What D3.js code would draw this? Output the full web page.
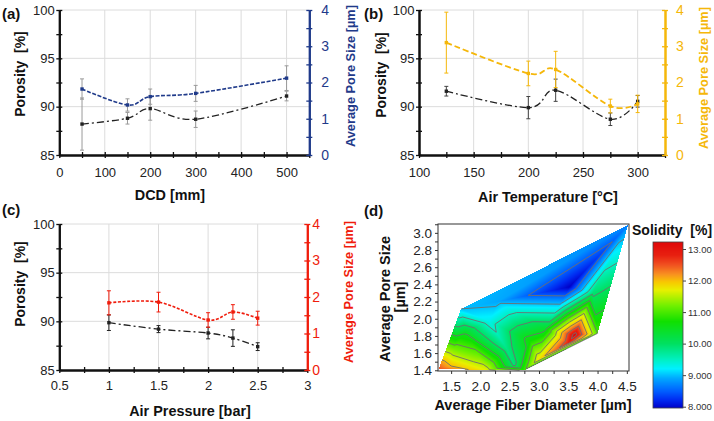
<!DOCTYPE html>
<html><head><meta charset="utf-8">
<script src="https://cdn.jsdelivr.net/npm/d3@7"></script>
<style>body{margin:0;background:#fff}svg{display:block}text{font-family:"Liberation Sans",Arial,sans-serif}</style>
</head><body><svg id="c" width="714" height="421"></svg>
<script>
// ---------- data ----------
// (a) DCD
const aDCD = [50, 150, 200, 300, 500];
const aPorosity = [88.2, 88.8, 89.8, 88.7, 91.1];
const aPorosityErr = [2.7, 0.6, 1.2, 0.85, 0.5];
const aPore = [1.82, 1.38, 1.61, 1.70, 2.12];
const aPoreErr = [0.28, 0.17, 0.21, 0.22, 0.34];
// (b) Air temperature
const bTemp = [125, 200, 225, 275, 300];
const bPorosity = [91.6, 89.9, 91.7, 88.7, 90.55];
const bPorosityErr = [0.5, 1.15, 1.15, 0.65, 0.6];
const bPore = [3.10, 2.25, 2.36, 1.35, 1.41];
const bPoreErr = [0.84, 0.34, 0.5, 0.19, 0.24];
// (c) Air pressure
const cPressure = [1, 1.5, 2, 2.25, 2.5];
const cPorosity = [89.86, 89.2, 88.8, 88.28, 87.4];
const cPorosityErr = [0.8, 0.36, 0.6, 0.85, 0.4];
const cPore = [1.84, 1.86, 1.37, 1.59, 1.42];
const cPoreErr = [0.33, 0.27, 0.2, 0.2, 0.19];
// (d) contour: fiber diameter, pore size, solidity
const dFiber =    [4.52, 1.67, 1.29, 2.10, 2.75, 4.00, 3.61, 3.50, 3.52, 2.30, 3.38, 2.45, 2.58, 1.55, 1.75, 2.15, 3.10, 2.85, 3.00, 3.92, 1.50];
const dPoreSize = [3.09, 2.115, 1.42, 1.40, 1.40, 1.83, 1.81, 1.72, 2.37, 2.20, 2.19, 1.65, 1.46, 1.65, 1.85, 1.97, 1.88, 1.74, 1.53, 2.30, 1.45];
const dSolidity = [8.7, 9.0, 12.5, 11.7, 10.9, 11.0, 13.2, 12.8, 7.95, 8.9, 8.9, 9.8, 9.9, 11.2, 10.4, 9.3, 10.4, 10.7, 11.8, 9.9, 12.0];
const contourLevels = [8.5, 9, 9.5, 10, 10.5, 11, 11.5, 12, 12.5, 13];
const colorbarTicks = [8, 9, 10, 11, 12, 13];
const colorbarTickLabels = ["8.000", "9.000", "10.00", "11.00", "12.00", "13.00"];

// ---------- helpers ----------
const svg = d3.select("#c");
const FONT = '"Liberation Sans", Arial, sans-serif';
const NAVY = "#1f3a8a", YELLOW = "#f5b70a", RED = "#f01c0c";

function styleAxis(g, color, fs, tcolor) {
  g.attr("font-family", FONT).attr("font-size", fs);
  g.select(".domain").attr("stroke", color).attr("stroke-width", 2);
  g.selectAll(".tick line").attr("stroke", color).attr("stroke-width", 1.3);
  g.selectAll(".tick text").attr("fill", tcolor || color);
}

function rotLabel(x, y, txt, fs, color) {
  svg.append("text").attr("transform", `translate(${x},${y}) rotate(-90)`)
    .attr("text-anchor", "middle").attr("font-weight", "bold").attr("font-size", fs)
    .attr("fill", color).style("white-space", "pre").text(txt);
}

function linePanel(c) {
  const x = d3.scaleLinear().domain(c.xDomain).range([c.L, c.R]);
  const yL = d3.scaleLinear().domain([85, 100]).range([c.B, c.T]);
  const yR = d3.scaleLinear().domain([0, 4]).range([c.B, c.T]);
  const g = svg.append("g");
  g.append("g").selectAll("line").data(c.xGrid).join("line")
    .attr("x1", d => x(d)).attr("x2", d => x(d)).attr("y1", c.T).attr("y2", c.B)
    .attr("stroke", "#dcdcdc").attr("stroke-width", 1);
  g.append("g").selectAll("line").data([90, 95, 100]).join("line")
    .attr("x1", c.L).attr("x2", c.R).attr("y1", d => yL(d)).attr("y2", d => yL(d))
    .attr("stroke", "#dcdcdc").attr("stroke-width", 1);

  const fmtX = d => c.xLabels.includes(d) ? String(d) : "";
  const bAx = g.append("g").attr("transform", `translate(0,${c.B})`)
    .call(d3.axisBottom(x).tickValues(c.xTicks).tickSizeInner(3).tickSizeOuter(0).tickPadding(c.xPad).tickFormat(fmtX));
  styleAxis(bAx, "#111", 13, "#222");
  const bAx2 = g.append("g").attr("transform", `translate(0,${c.B})`)
    .call(d3.axisTop(x).tickValues(c.xTicks).tickSizeInner(3).tickSizeOuter(0).tickFormat(""));
  styleAxis(bAx2, "#111", 13);
  const lt = d3.range(85, 100.01, 2.5);
  const lAx = g.append("g").attr("transform", `translate(${c.L},0)`)
    .call(d3.axisLeft(yL).tickValues(lt).tickSizeInner(3).tickSizeOuter(0).tickPadding(1.5).tickFormat(d => d % 5 === 0 ? d : ""));
  styleAxis(lAx, "#111", 13, "#222");
  const lAx2 = g.append("g").attr("transform", `translate(${c.L},0)`)
    .call(d3.axisRight(yL).tickValues(lt).tickSizeInner(3).tickSizeOuter(0).tickFormat(""));
  styleAxis(lAx2, "#111", 13);
  const rt = d3.range(0, 4.01, 0.5);
  const rAx = g.append("g").attr("transform", `translate(${c.R},0)`)
    .call(d3.axisRight(yR).tickValues(rt).tickSizeInner(3).tickSizeOuter(0).tickPadding(c.rPad).tickFormat(d => Number.isInteger(d) ? d : ""));
  styleAxis(rAx, c.color, 14);
  const rAx2 = g.append("g").attr("transform", `translate(${c.R},0)`)
    .call(d3.axisLeft(yR).tickValues(rt).tickSizeInner(3).tickSizeOuter(0).tickFormat(""));
  styleAxis(rAx2, c.color, 14);

  const curve = d3.curveCardinal.tension(0);
  function series(xs, ys, es, yS, col, errCol, dash, w) {
    const pts = xs.map((v, i) => [v, ys[i], es[i]]);
    g.append("path").datum(pts)
      .attr("d", d3.line().x(d => x(d[0])).y(d => yS(d[1])).curve(curve))
      .attr("fill", "none").attr("stroke", col).attr("stroke-width", w).attr("stroke-dasharray", dash);
    const eb = g.append("g").attr("stroke", errCol).attr("stroke-width", 1);
    eb.selectAll(".v").data(pts).join("line")
      .attr("x1", d => x(d[0])).attr("x2", d => x(d[0]))
      .attr("y1", d => yS(d[1] - d[2])).attr("y2", d => yS(d[1] + d[2]));
    eb.selectAll(".lo").data(pts).join("line")
      .attr("x1", d => x(d[0]) - 2).attr("x2", d => x(d[0]) + 2)
      .attr("y1", d => yS(d[1] - d[2])).attr("y2", d => yS(d[1] - d[2]));
    eb.selectAll(".hi").data(pts).join("line")
      .attr("x1", d => x(d[0]) - 2).attr("x2", d => x(d[0]) + 2)
      .attr("y1", d => yS(d[1] + d[2])).attr("y2", d => yS(d[1] + d[2]));
    g.append("g").selectAll("rect").data(pts).join("rect")
      .attr("x", d => x(d[0]) - 1.7).attr("y", d => yS(d[1]) - 1.7)
      .attr("width", 3.4).attr("height", 3.4).attr("fill", col);
  }
  series(c.xs, c.por, c.porErr, yL, "#222", c.porErrColor, "7,3,2,3", 1.3);
  series(c.xs, c.pore, c.poreErr, yR, c.color, c.poreErrColor, c.dash, c.lw);

  svg.append("text").attr("x", c.xLabelX).attr("y", c.xLabelY).attr("text-anchor", "middle")
    .attr("font-weight", "bold").attr("font-size", 14.4).attr("fill", "#111").text(c.xTitle);
  rotLabel(c.lLabX, c.lLabY, "Porosity  [%]", 14, "#111");
  rotLabel(c.rLabX, c.rLabY, "Average Pore Size [µm]", 12.8, c.color);
  svg.append("text").attr("x", c.tagX).attr("y", c.tagY).attr("font-weight", "bold")
    .attr("font-size", 15).attr("fill", "#111").text(c.tag);
}

linePanel({
  L: 59.3, R: 309.3, T: 10, B: 155, xDomain: [0, 550],
  xTicks: d3.range(0, 550.1, 50), xLabels: [0, 100, 200, 300, 400, 500], xGrid: [100, 200, 300, 400, 500],
  xPad: 9.3, rPad: 9,
  xs: aDCD, por: aPorosity, porErr: aPorosityErr, pore: aPore, poreErr: aPoreErr,
  color: NAVY, porErrColor: "#9a9a9a", poreErrColor: "#9a9a9a", dash: "4,1.6", lw: 1.6,
  xTitle: "DCD [mm]", xLabelX: 170, xLabelY: 199.5,
  lLabX: 25, lLabY: 74, rLabX: 354.5, rLabY: 76, tag: "(a)", tagX: 2, tagY: 18.5
});
linePanel({
  L: 419, R: 665, T: 10, B: 155, xDomain: [100, 325],
  xTicks: d3.range(100, 325.1, 25), xLabels: [100, 150, 200, 250, 300], xGrid: [150, 200, 250, 300],
  xPad: 9.3, rPad: 8,
  xs: bTemp, por: bPorosity, porErr: bPorosityErr, pore: bPore, poreErr: bPoreErr,
  color: YELLOW, porErrColor: "#444", poreErrColor: YELLOW, dash: "6,3", lw: 1.8,
  xTitle: "Air Temperature [°C]", xLabelX: 548, xLabelY: 201.5,
  lLabX: 386, lLabY: 75, rLabX: 708, rLabY: 78, tag: "(b)", tagX: 364, tagY: 18.5
});
linePanel({
  L: 59.3, R: 307.3, T: 224, B: 370, xDomain: [0.5, 3],
  xTicks: d3.range(0.5, 3.01, 0.25), xLabels: [0.5, 1, 1.5, 2, 2.5, 3], xGrid: [1, 1.5, 2, 2.5],
  xPad: 8, rPad: 2,
  xs: cPressure, por: cPorosity, porErr: cPorosityErr, pore: cPore, poreErr: cPoreErr,
  color: RED, porErrColor: "#222", poreErrColor: RED, dash: "3,1.6", lw: 1.6,
  xTitle: "Air Pressure [bar]", xLabelX: 190, xLabelY: 415.5,
  lLabX: 25, lLabY: 284, rLabX: 353, rLabY: 292, tag: "(c)", tagX: 2, tagY: 215
});

// ---------- (d) contour ----------
(function () {
  const L = 438, R = 629, T = 224, B = 371;
  const x = d3.scaleLinear().domain([1.276, 4.537]).range([L, R]);
  const y = d3.scaleLinear().domain([1.3915, 3.103]).range([B, T]);
  const color = d3.scaleLinear()
    .domain([7.95, 8.2, 8.5, 8.9, 9.2, 9.5, 10.0, 10.7, 11.2, 11.7, 11.95, 12.2, 12.5, 12.8, 13.2])
    .range(["#0000c8", "#0028f0", "#0060ff", "#00a8ff", "#00f0ff", "#00f0c0", "#00e060", "#10e000",
      "#70f000", "#e8f000", "#f8c800", "#f89020", "#f05020", "#e82010", "#e00808"])
    .clamp(true);
  const pts = dFiber.map((f, i) => [x(f), y(dPoreSize[i]), dSolidity[i]]);
  const del = d3.Delaunay.from(pts, d => d[0], d => d[1]);
  const tri = [];
  for (let k = 0; k < del.triangles.length; k += 3)
    tri.push([pts[del.triangles[k]], pts[del.triangles[k + 1]], pts[del.triangles[k + 2]]]);
  function interp(px, py) {
    for (const [a, b, c] of tri) {
      const d = (b[1] - c[1]) * (a[0] - c[0]) + (c[0] - b[0]) * (a[1] - c[1]);
      const l1 = ((b[1] - c[1]) * (px - c[0]) + (c[0] - b[0]) * (py - c[1])) / d;
      const l2 = ((c[1] - a[1]) * (px - c[0]) + (a[0] - c[0]) * (py - c[1])) / d;
      const l3 = 1 - l1 - l2;
      if (l1 >= -1e-6 && l2 >= -1e-6 && l3 >= -1e-6) return l1 * a[2] + l2 * b[2] + l3 * c[2];
    }
    return null;
  }
  const W = R - L, H = B - T;
  const cv = document.createElement("canvas"); cv.width = W; cv.height = H;
  const ctx = cv.getContext("2d"); const img = ctx.createImageData(W, H);
  for (let j = 0; j < H; j++) for (let i = 0; i < W; i++) {
    const v = interp(L + i + 0.5, T + j + 0.5);
    if (v === null) continue;
    const col = d3.rgb(color(v)); const o = (j * W + i) * 4;
    img.data[o] = col.r; img.data[o + 1] = col.g; img.data[o + 2] = col.b; img.data[o + 3] = 255;
  }
  ctx.putImageData(img, 0, 0);
  svg.append("image").attr("x", L).attr("y", T).attr("width", W).attr("height", H)
    .attr("href", cv.toDataURL());
  let pd = "";
  for (const lv0 of contourLevels) {
    const lv = lv0 + 1e-7;
    for (const t of tri) {
      const seg = [];
      for (let e = 0; e < 3; e++) {
        const p = t[e], q = t[(e + 1) % 3];
        if ((p[2] - lv) * (q[2] - lv) < 0) {
          const s = (lv - p[2]) / (q[2] - p[2]);
          seg.push([p[0] + s * (q[0] - p[0]), p[1] + s * (q[1] - p[1])]);
        }
      }
      if (seg.length === 2) pd += `M${seg[0][0].toFixed(2)},${seg[0][1].toFixed(2)}L${seg[1][0].toFixed(2)},${seg[1][1].toFixed(2)}`;
    }
  }
  svg.append("path").attr("d", pd).attr("fill", "none").attr("stroke", "#6e6e6e").attr("stroke-width", 0.9);
  svg.append("rect").attr("x", L).attr("y", T).attr("width", W).attr("height", H)
    .attr("fill", "none").attr("stroke", "#333").attr("stroke-width", 1);
  const bx = svg.append("g").attr("transform", `translate(0,${B})`)
    .call(d3.axisBottom(x).tickValues(d3.range(1.5, 4.51, 0.25)).tickSizeInner(3).tickSizeOuter(0).tickPadding(7)
      .tickFormat(d => (d * 2) % 1 === 0 ? d3.format(".1f")(d) : ""));
  bx.attr("font-family", FONT).attr("font-size", 13.5);
  bx.select(".domain").remove();
  bx.selectAll(".tick line").attr("stroke", "#333");
  bx.selectAll("text").attr("fill", "#222");
  const ly = svg.append("g").attr("transform", `translate(${L},0)`)
    .call(d3.axisLeft(y).tickValues(d3.range(1.4, 3.101, 0.1).map(v => +v.toFixed(1))).tickSizeInner(3).tickSizeOuter(0).tickPadding(3)
      .tickFormat(d => Math.round(d * 10) % 2 === 0 ? d3.format(".1f")(d) : ""));
  ly.attr("font-family", FONT).attr("font-size", 13.5);
  ly.select(".domain").remove();
  ly.selectAll(".tick line").attr("stroke", "#333");
  ly.selectAll("text").attr("fill", "#222");
  svg.append("text").attr("x", 533).attr("y", 410).attr("text-anchor", "middle").attr("font-weight", "bold")
    .attr("font-size", 14.5).attr("fill", "#111").text("Average Fiber Diameter [µm]");
  rotLabel(390, 299, "Average Pore Size", 14.5, "#111");
  rotLabel(405, 297, "[µm]", 14.5, "#111");
  svg.append("text").attr("x", 364).attr("y", 215.5).attr("font-weight", "bold")
    .attr("font-size", 15).attr("fill", "#111").text("(d)");

  const cy = d3.scaleLinear().domain([8, 13]).range([406.7, 249]);
  const cbT = 242, cbB = 408, cbL = 653, cbW = 30;
  svg.append("g").selectAll("rect").data(d3.range(cbT, cbB)).join("rect")
    .attr("x", cbL).attr("y", d => d).attr("width", cbW).attr("height", 1.05)
    .attr("fill", d => color(cy.invert(d + 0.5)));
  svg.append("rect").attr("x", cbL).attr("y", cbT).attr("width", cbW).attr("height", cbB - cbT)
    .attr("fill", "none").attr("stroke", "#444").attr("stroke-width", 0.8);
  const cax = svg.append("g").attr("transform", `translate(${cbL + cbW},0)`)
    .call(d3.axisRight(cy).tickValues(colorbarTicks).tickSizeInner(3).tickSizeOuter(0).tickPadding(2)
      .tickFormat((d, i) => colorbarTickLabels[i]));
  cax.attr("font-family", FONT).attr("font-size", 9.5);
  cax.select(".domain").remove();
  cax.selectAll(".tick line").attr("stroke", "#444");
  cax.selectAll("text").attr("fill", "#333");
  svg.append("text").attr("x", 632).attr("y", 235).attr("font-weight", "bold").attr("font-size", 14)
    .attr("fill", "#111").style("white-space", "pre").text("Solidity  [%]");
})();
</script></body></html>
